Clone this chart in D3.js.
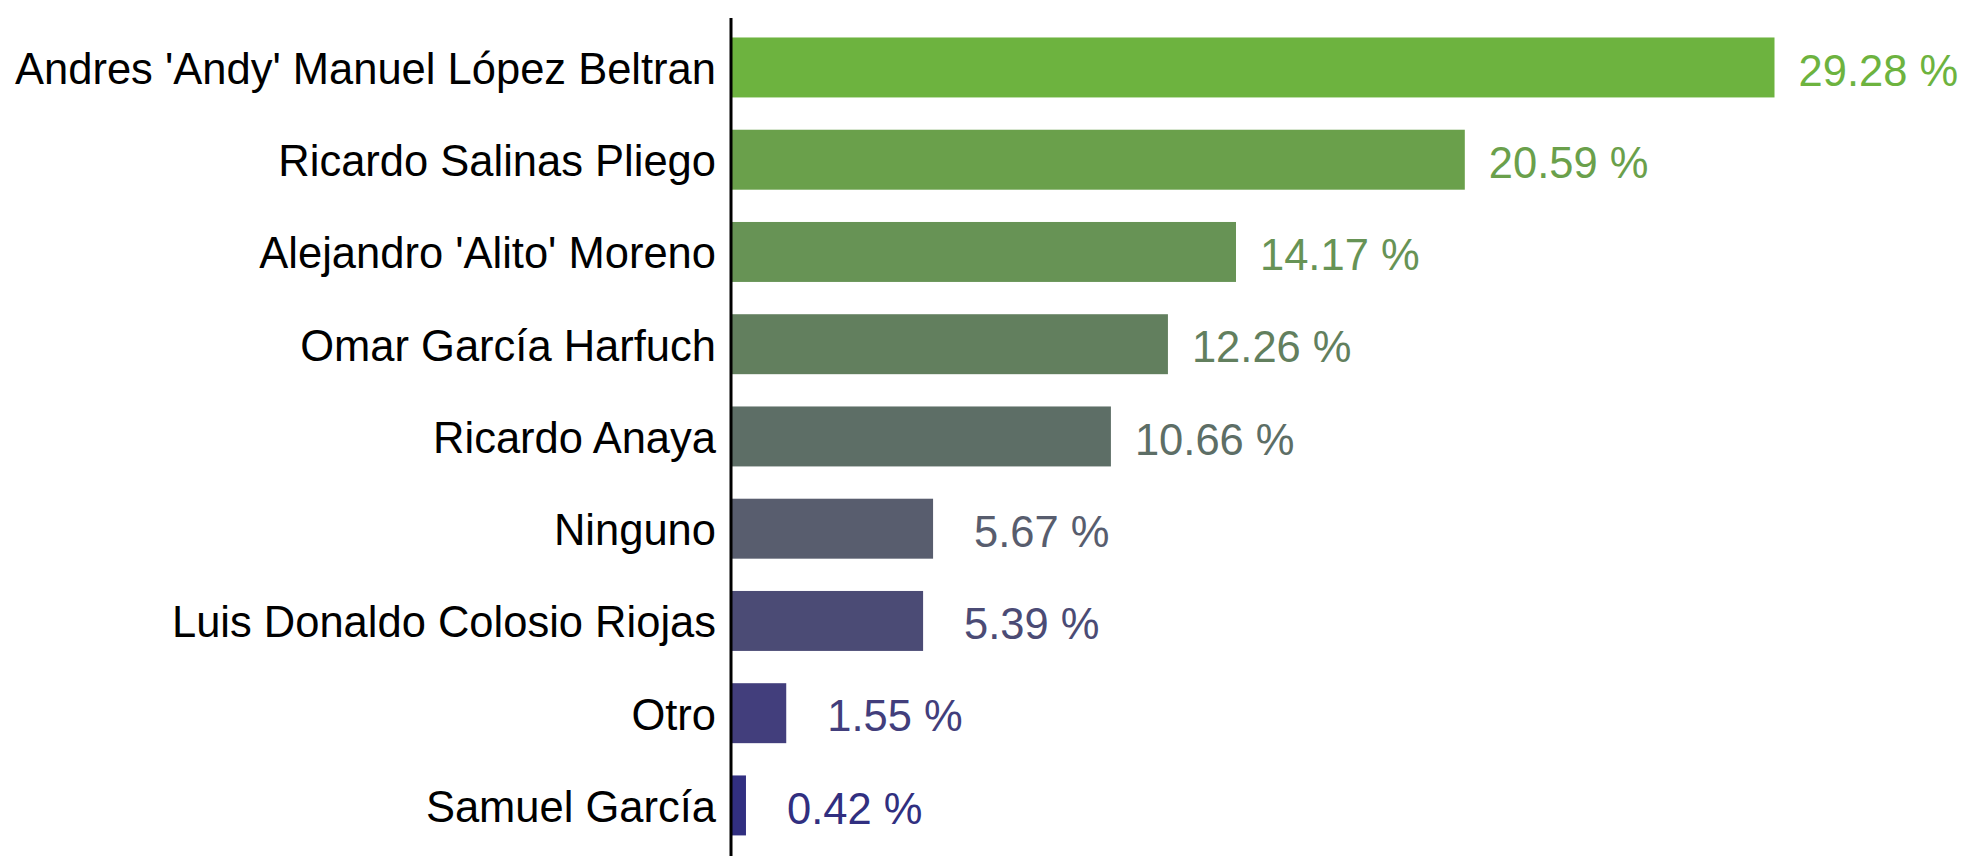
<!DOCTYPE html>
<html>
<head>
<meta charset="utf-8">
<script src="https://cdn.jsdelivr.net/npm/d3@7"></script>
<style>
  body { margin: 0; background: #fff; }
  text { font-family: "Liberation Sans", Arial, sans-serif; }
</style>
</head>
<body>
<div id="chart"></div>
<script>
var names = ["Andres 'Andy' Manuel López Beltran", "Ricardo Salinas Pliego", "Alejandro 'Alito' Moreno",
  "Omar García Harfuch", "Ricardo Anaya", "Ninguno", "Luis Donaldo Colosio Riojas", "Otro", "Samuel García"];
var values = [29.28, 20.59, 14.17, 12.26, 10.66, 5.67, 5.39, 1.55, 0.42];
var colors = ["#6db33f", "#6aa04b", "#679355", "#627f5e", "#5d6e66", "#585d6e", "#4b4b75", "#423e7c", "#312f80"];

var windowWidth = 1962,
  windowHeight = 856,
  axisX = 731;

var svg = d3.select("div#chart").append("svg")
  .attr("width", windowWidth)
  .attr("height", windowHeight);

var x = d3.scaleLinear()
  .domain([0, 29.28])
  .range([axisX, 1774.5]);

var y = d3.scaleBand()
  .domain(names)
  .range([5.2, 867.7])
  .paddingInner(0.35)
  .paddingOuter(0.35);

var bars = svg.selectAll(".bar")
  .data(names)
  .enter().append("rect")
  .attr("class", "bar")
  .attr("x", x(0))
  .attr("y", function(d){ return y(d); })
  .attr("width", function(d, i){ return x(values[i]) - x(0); })
  .attr("height", y.bandwidth())
  .style("fill", function(d, i){ return colors[i]; });

// left axis: just the line and the category labels
var yAxis = svg.append("g")
  .attr("transform", "translate(" + axisX + ",0)")
  .call(d3.axisLeft(y).tickSize(0).tickPadding(15));
yAxis.select(".domain").remove();
yAxis.selectAll("text")
  .style("font-size", "43.5px")
  .style("fill", "#000")
  .attr("dy", "0.38em");

svg.append("line")
  .attr("x1", axisX).attr("x2", axisX)
  .attr("y1", 18).attr("y2", windowHeight)
  .style("stroke", "#000")
  .style("stroke-width", 3);

var valueLabels = svg.selectAll(".valueLabel")
  .data(names)
  .enter().append("text")
  .attr("class", "valueLabel")
  .text(function(d, i){ return values[i].toFixed(2) + " %"; })
  .attr("x", function(d, i){ return x(values[i]) + (values[i] < 10 ? 41 : 24); })
  .attr("y", function(d){ return y(d) + y.bandwidth()/2; })
  .attr("dy", "0.42em")
  .style("font-size", "43.5px")
  .style("fill", function(d, i){ return colors[i]; });
</script>
</body>
</html>
